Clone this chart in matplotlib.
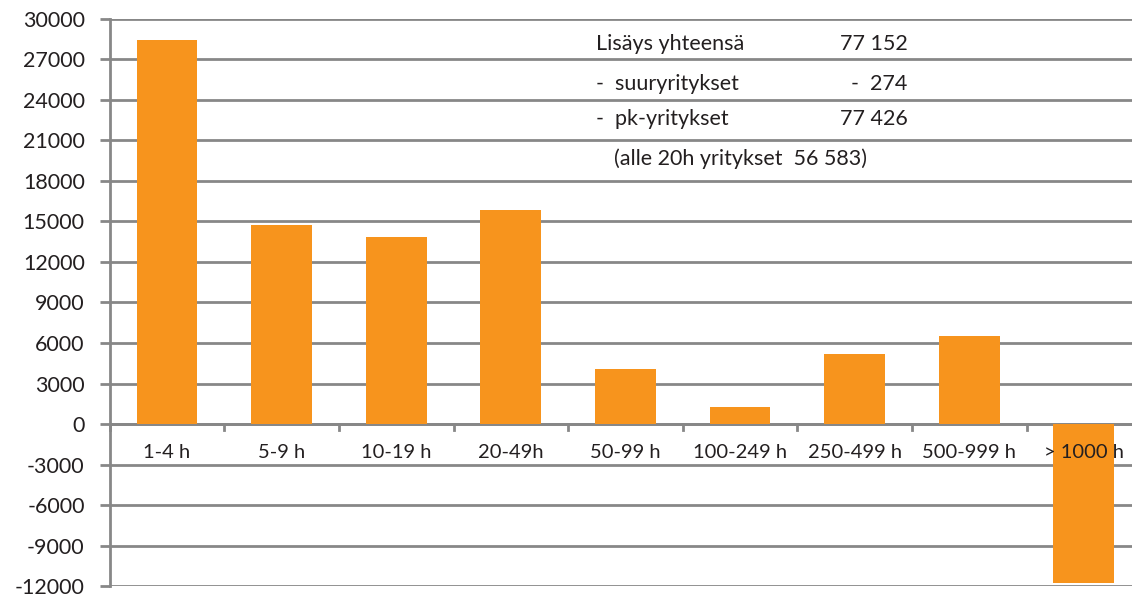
import matplotlib.pyplot as plt
import numpy as np

categories = ["1-4 h", "5-9 h", "10-19 h", "20-49h", "50-99 h",
              "100-249 h", "250-499 h", "500-999 h", "> 1000 h"]
values = [28450, 14750, 13850, 15850, 4070, 1260, 5180, 6520, -11780]
yticks = list(range(-12000, 30001, 3000))

info_labels = ["Lisäys yhteensä", "-  suuryritykset", "-  pk-yritykset"]
info_values = ["77 152", "-  274", "77 426"]
info_note = "(alle 20h yritykset  56 583)"

orange = "#F7941D"
grey = "#878787"
txt = "#231F20"

plt.rcParams['font.family'] = ['Lato', 'DejaVu Sans']

fig = plt.figure(figsize=(11.32, 5.97), dpi=100)
ax = fig.add_axes([0.0969, 0.0184, 0.9112, 0.9498])

x = np.arange(len(categories))
ax.bar(x, values, width=0.53, color=orange, zorder=2)

ax.set_xlim(-0.5, len(categories) - 0.5)
ax.set_ylim(-12000, 30000)
ax.set_yticks(yticks)
ax.set_yticklabels([str(v) for v in yticks], fontsize=15.5, color=txt)
ax.grid(axis="y", color=grey, linewidth=2, zorder=0)
ax.axhline(0, color=grey, linewidth=2, zorder=1)

for s in ["top", "right", "bottom"]:
    ax.spines[s].set_visible(False)
ax.spines["left"].set_color(grey)
ax.spines["left"].set_linewidth(2)
ax.tick_params(axis="y", length=7, width=2, color=grey, pad=11)

# category ticks between bars on the zero line
ax.set_xticks([])
for b in np.arange(-0.5, len(categories), 1.0):
    ax.plot([b, b], [0, -450], color=grey, linewidth=2, zorder=1, clip_on=False)
for i, c in enumerate(categories):
    ax.text(i, -2100, c, ha="center", va="center", fontsize=14.5, color=txt, zorder=3)

# summary text block
rows_y = [28150, 25200, 22600]
for lab, val, yy in zip(info_labels, info_values, rows_y):
    ax.text(3.74, yy, lab, ha="left", va="center", fontsize=15.5, color=txt, zorder=3)
    ax.text(6.46, yy, val, ha="right", va="center", fontsize=15.5, color=txt, zorder=3)
ax.text(3.90, 19650, info_note, ha="left", va="center", fontsize=15.5, color=txt, zorder=3)

plt.savefig("out.png", dpi=100)
